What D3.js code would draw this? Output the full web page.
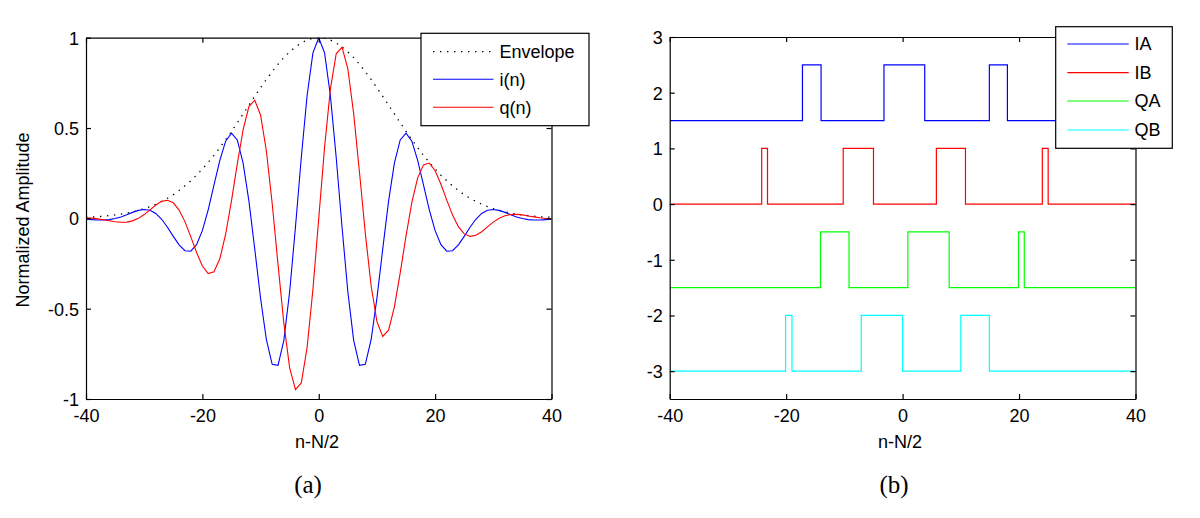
<!DOCTYPE html>
<html><head><meta charset="utf-8">
<script src="https://cdn.jsdelivr.net/npm/d3@7"></script>
<style>
body{margin:0;background:#fff}
svg text{font-family:"Liberation Sans",Arial,sans-serif;fill:#000}
</style>
</head><body>
<svg id="chart" width="1200" height="518"></svg>
<script>
// ---------- data: panel (a) ----------
const sampleN = [-40,-39,-38,-37,-36,-35,-34,-33,-32,-31,-30,-29,-28,-27,-26,-25,-24,-23,-22,-21,-20,-19,-18,-17,-16,-15,-14,-13,-12,-11,-10,-9,-8,-7,-6,-5,-4,-3,-2,-1,0,1,2,3,4,5,6,7,8,9,10,11,12,13,14,15,16,17,18,19,20,21,22,23,24,25,26,27,28,29,30,31,32,33,34,35,36,37,38,39,40];
const envelope = [0.006,0.007,0.009,0.012,0.015,0.019,0.023,0.029,0.036,0.044,0.054,0.065,0.078,0.094,0.111,0.131,0.154,0.180,0.208,0.239,0.273,0.310,0.349,0.391,0.436,0.482,0.529,0.578,0.627,0.675,0.723,0.769,0.812,0.853,0.890,0.922,0.949,0.971,0.987,0.997,1.000,0.997,0.987,0.971,0.949,0.922,0.890,0.853,0.812,0.769,0.723,0.675,0.627,0.578,0.529,0.482,0.436,0.391,0.349,0.310,0.273,0.239,0.208,0.180,0.154,0.131,0.111,0.094,0.078,0.065,0.054,0.044,0.036,0.029,0.023,0.019,0.015,0.012,0.009,0.007,0.006];
const iSeries = [-0.005,-0.007,-0.009,-0.009,-0.007,-0.001,0.008,0.020,0.033,0.044,0.049,0.045,0.027,-0.005,-0.049,-0.100,-0.147,-0.179,-0.182,-0.146,-0.068,0.047,0.185,0.321,0.427,0.472,0.434,0.306,0.095,-0.169,-0.442,-0.672,-0.808,-0.814,-0.675,-0.406,-0.048,0.337,0.680,0.916,1.000,0.916,0.680,0.337,-0.048,-0.406,-0.675,-0.814,-0.808,-0.672,-0.442,-0.169,0.095,0.306,0.434,0.472,0.427,0.321,0.185,0.047,-0.068,-0.146,-0.182,-0.179,-0.147,-0.100,-0.049,-0.005,0.027,0.045,0.049,0.044,0.033,0.020,0.008,-0.001,-0.007,-0.009,-0.009,-0.007,-0.005];
const qSeries = [0.003,0.001,-0.003,-0.008,-0.013,-0.019,-0.022,-0.021,-0.014,0.000,0.021,0.047,0.074,0.094,0.100,0.086,0.046,-0.018,-0.101,-0.189,-0.264,-0.306,-0.296,-0.224,-0.088,0.097,0.302,0.490,0.619,0.654,0.572,0.373,0.082,-0.255,-0.580,-0.828,-0.948,-0.911,-0.715,-0.393,0.000,0.393,0.715,0.911,0.948,0.828,0.580,0.255,-0.082,-0.373,-0.572,-0.654,-0.619,-0.490,-0.302,-0.097,0.088,0.224,0.296,0.306,0.264,0.189,0.101,0.018,-0.046,-0.086,-0.100,-0.094,-0.074,-0.047,-0.021,0.000,0.014,0.021,0.022,0.019,0.013,0.008,0.003,-0.001,-0.003];
const legendA = ["Envelope","i(n)","q(n)"];
const xTicks = [-40,-20,0,20,40];
const yTicksA = [-1,-0.5,0,0.5,1];

// ---------- data: panel (b) ----------
const legendB = ["IA","IB","QA","QB"];
const iaEdges = [-17.2,-14.0,-3.2,3.8,14.9,18.0];
const ibEdges = [-24.2,-23.2,-10.2,-5.0,5.8,10.8,24.0,25.0];
const qaEdges = [-14.1,-9.2,0.9,8.0,19.9,20.9];
const qbEdges = [-20.1,-19.0,-7.1,0.0,10.0,14.9];
const lowLevels = [1.5,0,-1.5,-3];
const highLevels = [2.5,1,-0.5,-2];
const yTicksB = [-3,-2,-1,0,1,2,3];

const svg = d3.select("#chart");
const FONT = 18;

function frame(g, x, y, xt, yt) {
  const [x0,x1] = x.range(), [y0,y1] = y.range();
  const fmt = d => String(d);
  const bottom = g.append("g").attr("transform",`translate(0,${y0})`)
    .call(d3.axisBottom(x).tickValues(xt).tickSizeInner(-5).tickSizeOuter(0).tickPadding(10).tickFormat(fmt));
  const top = g.append("g").attr("transform",`translate(0,${y1})`)
    .call(d3.axisTop(x).tickValues(xt).tickSizeInner(-5).tickSizeOuter(0).tickFormat(""));
  const left = g.append("g").attr("transform",`translate(${x0},0)`)
    .call(d3.axisLeft(y).tickValues(yt).tickSizeInner(-5).tickSizeOuter(0).tickPadding(7).tickFormat(fmt));
  const right = g.append("g").attr("transform",`translate(${x1},0)`)
    .call(d3.axisRight(y).tickValues(yt).tickSizeInner(-5).tickSizeOuter(0).tickFormat(""));
  [bottom,top,left,right].forEach(a=>{
    a.attr("font-family",null).attr("font-size",null);
    a.selectAll("path,line").attr("stroke","#000").attr("stroke-width",1.2);
    a.selectAll("text").style("font-size",FONT+"px");
  });
  left.selectAll("text").attr("dy","0.36em");
}

// ---------- panel (a) ----------
{
  const x = d3.scaleLinear().domain([-40,40]).range([86,551.5]);
  const y = d3.scaleLinear().domain([-1,1]).range([399,37.7]);
  const g = svg.append("g");
  g.append("clipPath").attr("id","clipA").append("rect")
    .attr("x",86).attr("y",37.7).attr("width",465.5).attr("height",361.3);
  const line = d3.line().x((d,i)=>x(sampleN[i])).y(d=>y(d));
  const plot = g.append("g").attr("clip-path","url(#clipA)");
  plot.append("path").attr("d",line(envelope)).attr("fill","none")
    .attr("stroke","#000").attr("stroke-width",1.3).attr("stroke-dasharray","1.4,5.6");
  plot.append("path").attr("d",line(iSeries)).attr("fill","none").attr("stroke","#0000ff").attr("stroke-width",1.1);
  plot.append("path").attr("d",line(qSeries)).attr("fill","none").attr("stroke","#ff0000").attr("stroke-width",1.1);
  frame(g,x,y,xTicks,yTicksA);
  g.append("text").attr("x",317).attr("y",448).attr("text-anchor","middle").style("font-size",FONT+"px").text("n-N/2");
  g.append("text").attr("transform","translate(29,220) rotate(-90)").attr("text-anchor","middle").style("font-size",FONT+"px").text("Normalized Amplitude");
  g.append("text").attr("x",308).attr("y",493).attr("text-anchor","middle")
    .style("font-family",'"Liberation Serif","Times New Roman",serif').style("font-size","25px").text("(a)");
  // legend
  const lg = g.append("g");
  lg.append("rect").attr("x",421).attr("y",33.3).attr("width",168).attr("height",92.4)
    .attr("fill","#fff").attr("stroke","#000").attr("stroke-width",1.2);
  const styles = [{c:"#000",dash:"1.4,5.6",w:1.3},{c:"#0000ff",dash:null,w:1.1},{c:"#ff0000",dash:null,w:1.1}];
  const rowsA = [51.7,79.3,107.3];
  legendA.forEach((name,k)=>{
    lg.append("line").attr("x1",433).attr("x2",493.5).attr("y1",rowsA[k]).attr("y2",rowsA[k])
      .attr("stroke",styles[k].c).attr("stroke-width",styles[k].w).attr("stroke-dasharray",styles[k].dash);
    lg.append("text").attr("x",499.5).attr("y",rowsA[k]).attr("dy","0.36em").style("font-size",FONT+"px").text(name);
  });
}

// ---------- panel (b) ----------
{
  const x = d3.scaleLinear().domain([-40,40]).range([669.7,1135.5]);
  const y = d3.scaleLinear().domain([-3.5,3]).range([399,37]);
  const g = svg.append("g");
  g.append("clipPath").attr("id","clipB").append("rect")
    .attr("x",669.7).attr("y",37).attr("width",465.8).attr("height",362);
  const colors = ["#0000ff","#ff0000","#00ff00","#00ffff"];
  const edgeSets = [iaEdges,ibEdges,qaEdges,qbEdges];
  const plot = g.append("g").attr("clip-path","url(#clipB)");
  const line = d3.line().x(d=>x(d[0])).y(d=>y(d[1]));
  edgeSets.forEach((edges,k)=>{
    const lo = lowLevels[k], hi = highLevels[k];
    let cur = lo;
    const pts = [[-40,lo]];
    edges.forEach(e=>{ pts.push([e,cur]); cur = (cur===lo)?hi:lo; pts.push([e,cur]); });
    pts.push([40,cur]);
    plot.append("path").attr("d",line(pts)).attr("fill","none").attr("stroke",colors[k]).attr("stroke-width",1.2);
  });
  frame(g,x,y,xTicks,yTicksB);
  g.append("text").attr("x",900).attr("y",448).attr("text-anchor","middle").style("font-size",FONT+"px").text("n-N/2");
  g.append("text").attr("x",894).attr("y",493).attr("text-anchor","middle")
    .style("font-family",'"Liberation Serif","Times New Roman",serif').style("font-size","25px").text("(b)");
  const lg = g.append("g");
  lg.append("rect").attr("x",1055.7).attr("y",26.7).attr("width",116.6).attr("height",121.6)
    .attr("fill","#fff").attr("stroke","#000").attr("stroke-width",1.2);
  const rowsB = [44,72.7,101,130];
  legendB.forEach((name,k)=>{
    lg.append("line").attr("x1",1067.3).attr("x2",1128.7).attr("y1",rowsB[k]).attr("y2",rowsB[k])
      .attr("stroke",colors[k]).attr("stroke-width",1.2);
    lg.append("text").attr("x",1134.5).attr("y",rowsB[k]).attr("dy","0.36em").style("font-size",FONT+"px").text(name);
  });
}
</script>
</body></html>
